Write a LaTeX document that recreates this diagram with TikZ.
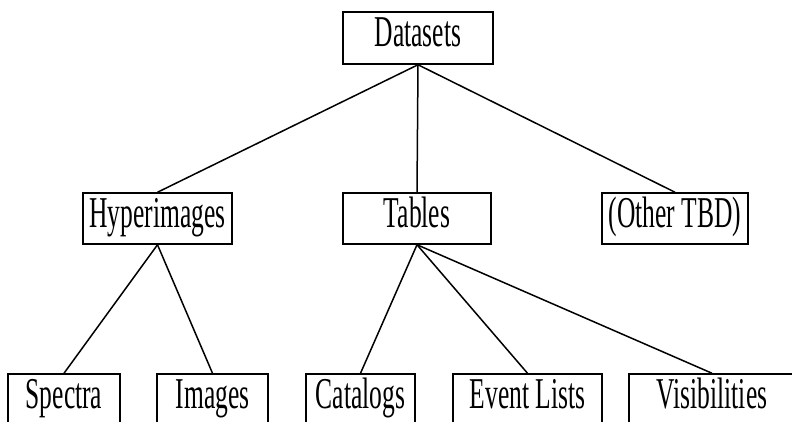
\documentclass[tikz,border=0pt]{standalone}
\usepackage{fontspec}
\setmainfont{Liberation Serif}[FakeStretch=0.58]
\begin{document}
\begin{tikzpicture}[x=1pt,y=1pt,
  box/.style={draw=black,line width=1.5pt,inner sep=0pt,minimum height=51pt,
    text height=22pt,text depth=5pt,
    font=\fontsize{44}{48}\selectfont},
  link/.style={line width=1.5pt}]
\useasboundingbox (0,0) rectangle (792,421);
\node[box,minimum width=150pt,minimum height=52pt] (ds) at (418,383) {Datasets};
\node[box,minimum width=149pt] (hy) at (157.5,202.5) {Hyperimages};
\node[box,minimum width=148pt] (tb) at (417,202.5) {Tables};
\node[box,minimum width=146pt] (ot) at (675,202.5) {(Other TBD)};
\node[box,minimum width=112pt] (sp) at (64,21.5) {Spectra};
\node[box,minimum width=111pt] (im) at (212.5,21.5) {Images};
\node[box,minimum width=109pt] (ca) at (360.5,21.5) {Catalogs};
\node[box,minimum width=149pt] (ev) at (527.5,21.5) {Event Lists};
\node[box,minimum width=166pt] (vi) at (712,21.5) {Visibilities};
\draw[link] (ds.south) -- (hy.north);
\draw[link] (ds.south) -- (tb.north);
\draw[link] (ds.south) -- (ot.north);
\draw[link] (hy.south) -- (sp.north);
\draw[link] (hy.south) -- (im.north);
\draw[link] (tb.south) -- (ca.north);
\draw[link] (tb.south) -- (ev.north);
\draw[link] (tb.south) -- (vi.north);
\end{tikzpicture}
\end{document}
